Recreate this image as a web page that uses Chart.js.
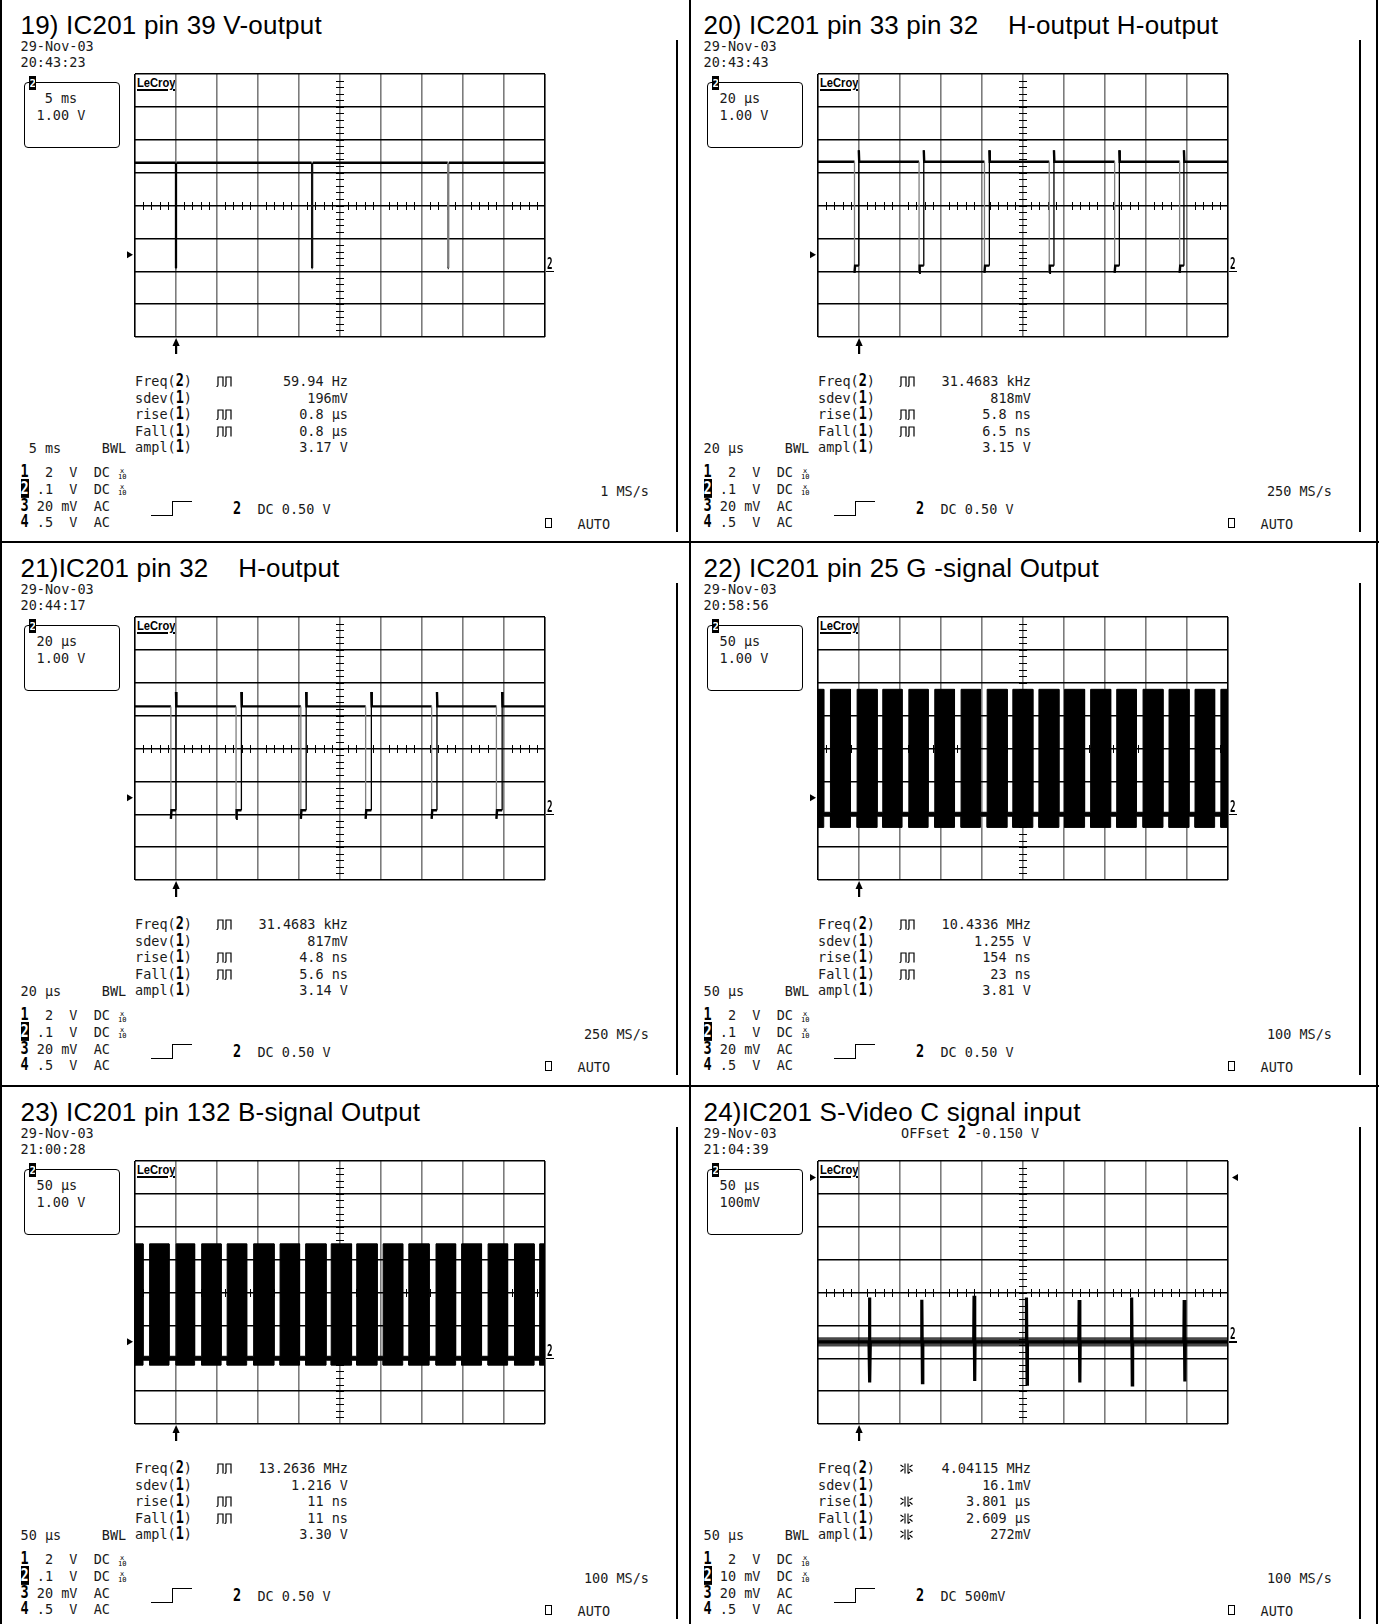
<!DOCTYPE html>
<html>
<head>
<meta charset="utf-8">
<script src="https://cdn.jsdelivr.net/npm/chart.js@4.4.1/dist/chart.umd.min.js"></script>
<style>
body { margin: 0; background: #fff; }
#page { position: relative; width: 1379px; height: 1624px; overflow: hidden; background: #fff; }
.panel { position: absolute; width: 680px; height: 543px; }
.t { position: absolute; white-space: pre; font: 13.5px/13.5px "DejaVu Sans Mono", monospace; color: #1a1a1a; }
.title { position: absolute; white-space: pre; font: 26px/26px "Liberation Sans", Arial, sans-serif; color: #000; letter-spacing: 0.2px; }
.b { display: inline-block; font-weight: bold; color: #000; transform: scaleY(1.35); transform-origin: 50% 85%; }
.inv { background: #000; color: #fff; }
.logo { position: absolute; font: bold 13px/13px "Liberation Sans", Arial, sans-serif; text-decoration: underline; text-decoration-thickness: 1.6px; text-underline-offset: 2px; transform: scaleX(0.86); transform-origin: 0 0; white-space: pre; color: #000; }
.gm { position: absolute; font: bold 15px/15px "DejaVu Sans Mono", monospace; transform: scaleX(0.62); transform-origin: 0 0; color: #000; }
.x10 { position: absolute; font: 7px/6px "DejaVu Sans Mono", monospace; text-align: center; width: 8px; color: #000; }
.box { position: absolute; box-sizing: border-box; }
.box svg { display: block; }
canvas { position: absolute; }
</style>
</head>
<body>
<div id="page"></div>
<script>
// ---- text ----
const titles = [
  '19) IC201 pin 39 V-output',
  '20) IC201 pin 33 pin 32    H-output H-output',
  '21)IC201 pin 32    H-output',
  '22) IC201 pin 25 G -signal Output',
  '23) IC201 pin 132 B-signal Output',
  '24)IC201 S-Video C signal input'
];
const dates = ['29-Nov-03', '29-Nov-03', '29-Nov-03', '29-Nov-03', '29-Nov-03', '29-Nov-03'];
const times = ['20:43:23', '20:43:43', '20:44:17', '20:58:56', '21:00:28', '21:04:39'];
const timebaseLabels = [' 5 ms', '20 µs', '20 µs', '50 µs', '50 µs', '50 µs'];
const voltLabels = ['1.00 V', '1.00 V', '1.00 V', '1.00 V', '1.00 V', '100mV'];
const measLabels = ['Freq(2)', 'sdev(1)', 'rise(1)', 'Fall(1)', 'ampl(1)'];
const meas19 = ['59.94 Hz', '196mV', '0.8 µs', '0.8 µs', '3.17 V'];
const meas20 = ['31.4683 kHz', '818mV', '5.8 ns', '6.5 ns', '3.15 V'];
const meas21 = ['31.4683 kHz', '817mV', '4.8 ns', '5.6 ns', '3.14 V'];
const meas22 = ['10.4336 MHz', '1.255 V', '154 ns', '23 ns', '3.81 V'];
const meas23 = ['13.2636 MHz', '1.216 V', '11 ns', '11 ns', '3.30 V'];
const meas24 = ['4.04115 MHz', '16.1mV', '3.801 µs', '2.609 µs', '272mV'];
const sampleRates = ['1 MS/s', '250 MS/s', '250 MS/s', '100 MS/s', '100 MS/s', '100 MS/s'];
const ch2Settings = [' .1  V  DC', ' .1  V  DC', ' .1  V  DC', ' .1  V  DC', ' .1  V  DC', ' 10 mV  DC'];
const trigSettings = ['DC 0.50 V', 'DC 0.50 V', 'DC 0.50 V', 'DC 0.50 V', 'DC 0.50 V', 'DC 500mV'];

// ---- scope settings: time/div, volts/div, ground position (div from centre), trigger level (V) ----
const timePerDiv = [5, 20, 20, 50, 50, 50];
const voltsPerDiv = [1, 1, 1, 1, 1, 0.1];
const groundDiv = [-2, -2, -2, -2, -2, -1.5];
const trigLevels = [0.5, 0.5, 0.5, 0.5, 0.5, 0.5];

// ---- waveforms (x in ms or µs, y in volts above ground) ----
// 19) V-output: high level with three sync dips
const vDipTimes19 = [5.0, 21.6, 38.2];
const vDipShade19 = ['#000', '#111', '#777'];
const vLevels19 = [3.3, 0.1];               // high, bottom of dip
// 20) / 21) H-output: fall + rise times of each low pulse
const hFall20 = [17.8, 49.3, 81.2, 112.8, 144.7, 176.4];
const hRise20 = [19.9, 51.6, 83.6, 115.1, 147.0, 178.5];
const hLevels20 = [3.33, 0.17, 3.68, -0.05]; // high, low, overshoot, undershoot
const hFall21 = [17.5, 49.3, 80.9, 112.5, 144.7, 176.3];
const hRise21 = [20.0, 51.9, 83.5, 115.3, 147.3, 179.1];
const hLevels21 = [3.28, 0.12, 3.72, -0.14];
// 22) / 23) video bursts: start / end of each line
const burstStart22 = [0, 15.2, 47.7, 79.0, 110.8, 142.4, 174.5, 206.3, 237.6, 269.4, 300.7, 332.5, 364.3, 396.4, 428.1, 459.8, 491.3];
const burstEnd22 = [7.0, 39.6, 72.1, 102.5, 134.3, 166.5, 198.1, 230.7, 262.0, 293.8, 325.1, 356.9, 388.2, 420.7, 452.5, 483.7, 500];
const burstLevels22 = [3.8, -0.4];          // top, bottom
const burstStart23 = [0, 17.8, 50.2, 81.3, 112.4, 144.7, 176.9, 208.1, 239.3, 270.4, 302.6, 333.9, 367.1, 398.3, 430.6, 462.8, 493.5];
const burstEnd23 = [9.8, 41.5, 72.7, 105.0, 136.2, 169.6, 200.7, 233.0, 264.1, 295.3, 326.5, 358.7, 391.0, 422.6, 454.4, 486.7, 500];
const burstLevels23 = [3.48, -0.21];
// 24) chroma input: noisy baseline with spikes
const spikeTimes24 = [63.0, 127.0, 190.7, 254.6, 318.9, 382.9, 447.0];
const spikeTop24 = [0.135, 0.128, 0.14, 0.135, 0.127, 0.135, 0.127];
const spikeBottom24 = [-0.124, -0.124, -0.119, -0.129, -0.124, -0.131, -0.121];
const noiseBand24 = [-0.014, 0.014];

const PULSE = '<svg width="18" height="11"><path d="M0.5 10.5 Q2 10.5 2 9 V1 H7 V10.5 M8.5 10.5 Q10 10.5 10 9 V1 H15 V10.5" fill="none" stroke="#000" stroke-width="1.2"/></svg>';
const ALT = '<svg width="16" height="11"><path d="M6 0.5 V10.5 M9 0.5 V10.5 M1.5 2 L4.5 4 M1.5 8.5 L4.5 6 M13.5 2 L10.5 4 M13.5 8.5 L10.5 6 M9 10.5 L11 9" fill="none" stroke="#000" stroke-width="1.1"/></svg>';

const vertical = c => c.p0.parsed.x === c.p1.parsed.x;

function wave19() {
  const [hi, lo] = vLevels19;
  const pts = [{x: 0, y: hi}];
  vDipTimes19.forEach(t => pts.push({x: t - 0.06, y: hi}, {x: t - 0.06, y: lo}, {x: t + 0.06, y: lo}, {x: t + 0.06, y: hi}));
  pts.push({x: 50, y: hi});
  return [{
    data: pts, borderColor: '#000', borderWidth: 2.5,
    segment: {
      borderWidth: c => (vertical(c) ? 1.3 : undefined),
      borderColor: c => (vertical(c) ? vDipShade19[vDipTimes19.findIndex(t => Math.abs(t - c.p0.parsed.x) < 0.1)] : undefined)
    }
  }];
}

function hWave(falls, rises, lv) {
  const [hi, lo, over, under] = lv;
  const pts = [{x: 0, y: hi}];
  falls.forEach((f, i) => {
    const r = rises[i];
    pts.push({x: f, y: hi}, {x: f, y: under}, {x: f + 0.3, y: lo}, {x: r, y: lo}, {x: r, y: over}, {x: r + 0.2, y: hi});
  });
  pts.push({x: 200, y: hi});
  return [{
    data: pts, borderColor: '#000', borderWidth: 2.4,
    segment: {
      borderColor: c => (c.p0.parsed.y - c.p1.parsed.y > 1 ? '#808080' : undefined),
      borderWidth: c => (Math.abs(c.p0.parsed.y - c.p1.parsed.y) > 1 ? 1.3 : undefined)
    }
  }];
}

function burstWave(starts, ends, lv) {
  const [top, bot] = lv;
  const band = 0.06;
  const up = [], dn = [];
  starts.forEach((s, i) => {
    const e = ends[i];
    up.push({x: s, y: band}, {x: s, y: top}, {x: e, y: top}, {x: e, y: band});
    dn.push({x: s, y: -band}, {x: s, y: bot}, {x: e, y: bot}, {x: e, y: -band});
  });
  return [
    {data: dn, borderColor: '#000', borderWidth: 1},
    {data: up, borderColor: '#000', borderWidth: 1, fill: '-1', backgroundColor: '#000'}
  ];
}

function spikeWave() {
  const pts = [{x: 0, y: 0}];
  spikeTimes24.forEach((t, i) => pts.push({x: t - 0.8, y: 0}, {x: t - 0.4, y: spikeTop24[i]}, {x: t + 0.4, y: spikeBottom24[i]}, {x: t + 0.8, y: 0}));
  pts.push({x: 500, y: 0});
  return [
    {data: [{x: 0, y: noiseBand24[0]}, {x: 500, y: noiseBand24[0]}], borderWidth: 0, borderColor: 'rgba(0,0,0,0)'},
    {data: [{x: 0, y: noiseBand24[1]}, {x: 500, y: noiseBand24[1]}], borderWidth: 0, borderColor: 'rgba(0,0,0,0)', fill: '-1', backgroundColor: 'rgba(0,0,0,0.72)'},
    {data: pts, borderColor: '#000', borderWidth: 3.2}
  ];
}

const measSets = [meas19, meas20, meas21, meas22, meas23, meas24];
const pulseSyms = [PULSE, '', PULSE, PULSE, ''];
const altSyms = [ALT, '', ALT, ALT, ALT];
const waves = [
  () => wave19(),
  () => hWave(hFall20, hRise20, hLevels20),
  () => hWave(hFall21, hRise21, hLevels21),
  () => burstWave(burstStart22, burstEnd22, burstLevels22),
  () => burstWave(burstStart23, burstEnd23, burstLevels23),
  () => spikeWave()
];

// centre cross ticks, trigger markers and trigger-position arrow
const scopePlugin = {
  id: 'scope',
  beforeDatasetsDraw(chart) {
    const {ctx, chartArea: a} = chart;
    const cx = Math.round((a.left + a.right) / 2), cy = Math.round((a.top + a.bottom) / 2);
    ctx.save();
    ctx.strokeStyle = '#000';
    ctx.lineWidth = 1;
    ctx.beginPath();
    for (let i = 1; i < 50; i++) {
      if (i % 5 === 0) continue;
      const x = Math.round(a.left + (a.right - a.left) * i / 50) + 0.5;
      ctx.moveTo(x, cy - 4); ctx.lineTo(x, cy + 4);
    }
    for (let i = 1; i < 40; i++) {
      const y = Math.round(a.top + (a.bottom - a.top) * i / 40) + 0.5;
      ctx.moveTo(cx - 4, y); ctx.lineTo(cx + 4, y);
    }
    ctx.stroke();
    ctx.restore();
  },
  afterDatasetsDraw(chart, args, opts) {
    const {ctx, chartArea: a, scales: {x, y}} = chart;
    const tri = (x1, y1, x2, y2, x3, y3) => { ctx.beginPath(); ctx.moveTo(x1, y1); ctx.lineTo(x2, y2); ctx.lineTo(x3, y3); ctx.closePath(); ctx.fill(); };
    ctx.save();
    ctx.fillStyle = '#000';
    const ty = y.getPixelForValue(opts.trigLevel);
    tri(a.left - 8, ty - 3.5, a.left - 2, ty, a.left - 8, ty + 3.5);
    if (opts.rightMarker) tri(a.right + 10, ty - 3.5, a.right + 4, ty, a.right + 10, ty + 3.5);
    const ax = Math.round(x.getPixelForValue(opts.trigTime));
    ctx.fillRect(ax - 1, a.bottom + 6, 2.2, 11);
    tri(ax - 3.5, a.bottom + 9, ax + 0.1, a.bottom + 1, ax + 3.7, a.bottom + 9);
    ctx.restore();
  }
};

const page = document.getElementById('page');
function rect(parent, x, y, w, h, css) {
  const d = document.createElement('div');
  d.className = 'box';
  d.style.cssText += `left:${x}px;top:${y}px;width:${w}px;height:${h}px;` + (css || 'background:#000');
  parent.appendChild(d);
  return d;
}
function put(parent, cls, x, base, html, fs) {
  const d = document.createElement('div');
  d.className = cls;
  d.style.left = x + 'px';
  d.style.top = (base - 0.846 * fs) + 'px';
  d.innerHTML = html;
  parent.appendChild(d);
  return d;
}
function putR(parent, cls, xr, base, html, fs) {
  const d = put(parent, cls, xr - 300, base, html, fs);
  d.style.width = '300px';
  d.style.textAlign = 'right';
  return d;
}
const boldDigit = s => s.replace(/\((\d)\)/, '(<span class="b">$1</span>)');

// table borders
rect(page, 0, 0, 2, 1624); rect(page, 689, 0, 2, 1624); rect(page, 1376, 0, 2, 1624);
rect(page, 0, 541, 1379, 2); rect(page, 0, 1085, 1379, 2);

const colX = [7, 690], rowY = [0, 543, 1087];

titles.forEach((title, i) => {
  const el = document.createElement('div');
  el.className = 'panel';
  el.style.left = colX[i % 2] + 'px';
  el.style.top = rowY[Math.floor(i / 2)] + 'px';
  page.appendChild(el);

  put(el, 'title', 13.5, 33.7, title, 26);
  put(el, 't', 13.5, 51.5, dates[i], 13.5);
  put(el, 't', 13.5, 67.8, times[i], 13.5);
  if (i === 5) put(el, 't', 211, 51.5, 'OFFset <span class="b">2</span> -0.150 V', 13.5);
  rect(el, 668.5, 40, 2, 492);

  // channel box
  rect(el, 17, 82, 96, 66, 'border:1.3px solid #000;border-radius:4px;');
  const m = rect(el, 21.5, 75.5, 7, 14, 'background:#000;color:#fff;font:bold 11px/14px "DejaVu Sans Mono",monospace;text-align:center;overflow:hidden;border:1px solid #000;');
  m.textContent = '2';
  put(el, 't', 29.5, 103.6, timebaseLabels[i], 13.5);
  put(el, 't', 29.5, 120, voltLabels[i], 13.5);

  // logo
  put(el, 'logo', 129.5, 87, 'LeCroy', 13);

  // measurements
  const syms = i === 5 ? altSyms : pulseSyms;
  measLabels.forEach((lab, k) => {
    const base = 386.5 + k * 16.5;
    put(el, 't', 128, base, boldDigit(lab), 13.5);
    if (syms[k]) rect(el, 209, base - 10.5, 18, 11, 'background:none').innerHTML = syms[k];
    putR(el, 't', 341, base, measSets[i][k], 13.5);
  });

  // bottom status block
  put(el, 't', 13.5, 453.5, timebaseLabels[i].padEnd(10) + 'BWL', 13.5);
  const chRows = [
    '<span class="b">1</span>  2  V  DC',
    '<span class="b inv">2</span>' + ch2Settings[i],
    '<span class="b">3</span> 20 mV  AC',
    '<span class="b">4</span> .5  V  AC'
  ];
  const chBase = [477.7, 494.4, 511, 527];
  chRows.forEach((r, k) => {
    put(el, 't', 13.5, chBase[k], r, 13.5);
    if (k < 2) put(el, 'x10', 111, chBase[k] - 4, 'x<br>10', 7);
  });
  putR(el, 't', 642, 496, sampleRates[i], 13.5);
  rect(el, 144, 501, 21, 15, 'border-bottom:1.5px solid #000;');
  rect(el, 164.5, 501, 20, 15, 'border-top:1.5px solid #000;border-left:1.5px solid #000;');
  put(el, 't', 226, 514, '<span class="b">2</span>  ' + trigSettings[i], 13.5);
  rect(el, 538, 518, 7, 10, 'border:1.2px solid #000;');
  put(el, 't', 570.5, 529, 'AUTO', 13.5);

  // the screen itself
  const cv = document.createElement('canvas');
  cv.width = 450; cv.height = 291;
  cv.style.left = '108px'; cv.style.top = '68px';
  el.appendChild(cv);

  const td = timePerDiv[i], vd = voltsPerDiv[i];
  const centre = -groundDiv[i] * vd;
  const divTicks = (start, step, n) => Array.from({length: n + 1}, (_, k) => ({value: start + k * step}));
  const chart = new Chart(cv, {
    type: 'line',
    data: { datasets: waves[i]() },
    options: {
      responsive: false,
      animation: false,
      events: [],
      layout: { padding: { left: 20, right: 20, top: 6, bottom: 22 } },
      elements: { point: { radius: 0 }, line: { tension: 0 } },
      plugins: {
        legend: { display: false },
        tooltip: { enabled: false },
        scope: { trigLevel: trigLevels[i], trigTime: td, rightMarker: i === 5 }
      },
      scales: {
        x: {
          type: 'linear', min: 0, max: 10 * td,
          afterBuildTicks: s => { s.ticks = divTicks(0, td, 10); },
          ticks: { display: false },
          border: { display: false },
          grid: { drawTicks: false, lineWidth: 1.6,
                  color: c => (c.index === 0 || c.index === 10 ? '#000' : '#7c7c7c') }
        },
        y: {
          type: 'linear', min: centre - 4 * vd, max: centre + 4 * vd,
          afterBuildTicks: s => { s.ticks = divTicks(centre - 4 * vd, vd, 8); },
          ticks: { display: false },
          border: { display: false },
          grid: { drawTicks: false, lineWidth: 1.4, color: '#000' }
        }
      }
    },
    plugins: [scopePlugin]
  });

  // ground marker "2" on the right edge, placed through the y scale
  const gy = chart.scales.y.getPixelForValue(0) + 68;
  const gx = chart.chartArea.right + 108;
  put(el, 'gm', gx + 2, gy - 2, '2', 15);
  rect(el, gx + 1, gy - 0.5, 8, 1.6);
});
</script>
</body>
</html>
